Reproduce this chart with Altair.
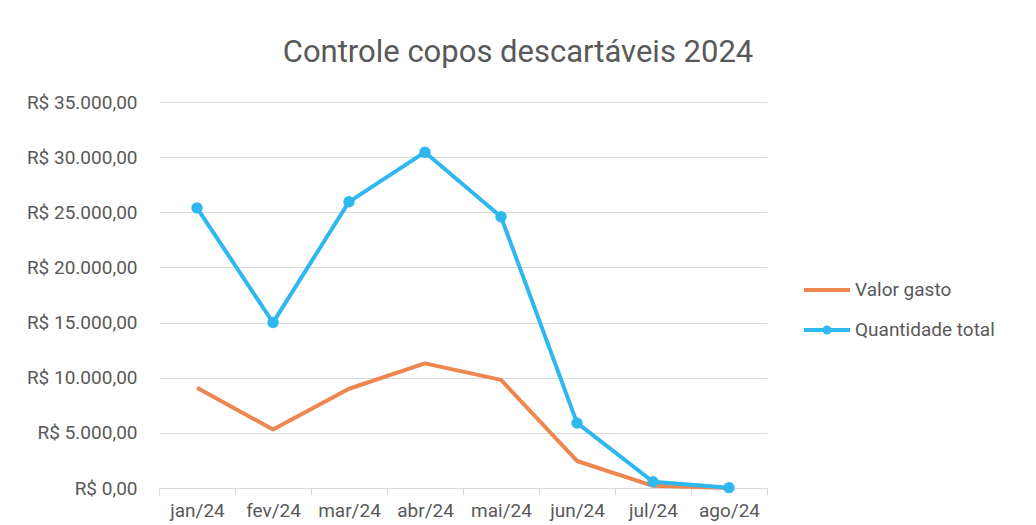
import altair as alt
import pandas as pd

months = ['jan/24', 'fev/24', 'mar/24', 'abr/24', 'mai/24', 'jun/24', 'jul/24', 'ago/24']
valor_gasto = [9100, 5300, 9000, 11300, 9800, 2450, 200, 0]
quantidade_total = [25400, 15000, 25950, 30450, 24600, 5900, 570, 30]
series = ['Valor gasto', 'Quantidade total']
colors = ['#EE8650', '#2EB8EF']
y_ticks = [0, 5000, 10000, 15000, 20000, 25000, 30000, 35000]

rows = []
for i, m in enumerate(months):
    rows.append({'idx': i + 0.5, 'mes': m, 'serie': series[0], 'v': valor_gasto[i]})
    rows.append({'idx': i + 0.5, 'mes': m, 'serie': series[1], 'v': quantidade_total[i]})
df = pd.DataFrame(rows)

FS = 19
TXT = '#595959'

months_js = '[' + ','.join("'" + m + "'" for m in months) + ']'
x_label_expr = "datum.value % 1 ? " + months_js + "[floor(datum.value)] : ''"
y_label_expr = ("'R$ ' + replace(replace(replace(format(datum.value, ',.2f'), ',', '#'), '.', ','), '#', '.')")

x_enc = alt.X(
    'idx:Q',
    scale=alt.Scale(domain=[0, len(months)], nice=False, zero=False),
    axis=alt.Axis(
        values=[k / 2 for k in range(2 * len(months) + 1)],
        labelExpr=x_label_expr,
        labelOverlap=False,
        labelFlush=False,
        grid=False,
        title=None,
        domainColor='#D9D9D9',
        tickColor='#D9D9D9',
        tickSize=7,
        tickOpacity={'condition': {'test': 'datum.value % 1 == 0', 'value': 1}, 'value': 0},
        labelPadding=6,
        labelFontSize=FS,
        labelColor=TXT,
    ),
)
y_enc = alt.Y(
    'v:Q',
    scale=alt.Scale(domain=[0, 35000], nice=False),
    axis=alt.Axis(
        values=y_ticks,
        labelExpr=y_label_expr,
        domain=False,
        ticks=False,
        gridColor='#D9D9D9',
        title=None,
        labelPadding=22,
        labelFontSize=FS,
        labelColor=TXT,
    ),
)

base = alt.Chart(df)

orange = base.transform_filter(alt.datum.serie == series[0]).mark_line(
    strokeWidth=4, strokeJoin='round', color=colors[0]).encode(x=x_enc, y=y_enc)
blue = base.transform_filter(alt.datum.serie == series[1]).mark_line(
    strokeWidth=4, strokeJoin='round', color=colors[1]).encode(x=x_enc, y=y_enc)
points = base.transform_filter(alt.datum.serie == series[1]).mark_circle(
    size=130, opacity=1, color=colors[1]).encode(x=x_enc, y=y_enc)

line_path = 'M-1,0L1,0'
line_dot_path = 'M-1,0L1,0M-0.11,0A0.11,0.11 0 1,0 0.11,0A0.11,0.11 0 1,0 -0.11,0'

legend_props = dict(
    title=None, orient='none', legendX=643, legendY=163,
    labelFontSize=FS, labelColor=TXT, labelOffset=3,
    symbolSize=2116, symbolStrokeWidth=4, symbolOpacity=1,
    rowPadding=5, padding=0)

legend_layer = base.mark_point(filled=False, strokeWidth=4, opacity=0).encode(
    x=x_enc, y=y_enc,
    color=alt.Color('serie:N', scale=alt.Scale(domain=series, range=colors),
                    legend=alt.Legend(**legend_props)),
    shape=alt.Shape('serie:N', scale=alt.Scale(domain=series, range=[line_path, line_dot_path]),
                    legend=alt.Legend(**legend_props)),
)

chart = alt.layer(orange, blue, points, legend_layer).properties(
    width=608, height=386,
    padding={'left': 151, 'top': 94, 'right': 261, 'bottom': 35},
    autosize=alt.AutoSizeParams(type='none'),
    title=alt.TitleParams(
        'Controle copos descartáveis 2024', fontSize=31, fontWeight='normal',
        color=TXT, anchor='middle', dx=55, offset=24),
    background='white',
).configure(font='Roboto').configure_view(strokeWidth=0)

chart.save('out.html', embed_options={'renderer': 'svg', 'actions': False})
